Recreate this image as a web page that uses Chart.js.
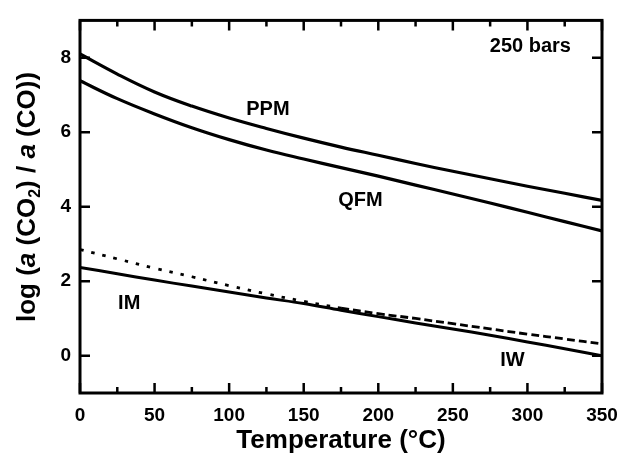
<!DOCTYPE html>
<html>
<head>
<meta charset="utf-8">
<script src="https://cdn.jsdelivr.net/npm/chart.js@4.4.1/dist/chart.umd.min.js"></script>
<style>
  html, body { margin: 0; padding: 0; background: #fff; }
  #wrap { position: relative; width: 617px; height: 459px; }
</style>
</head>
<body>
<div id="wrap"><canvas id="grafik" width="617" height="459"></canvas></div>
<script>
// ── VERI ──
const sicaklik = [0, 25, 50, 75, 100, 125, 150, 175, 200, 225, 250, 275, 300, 325, 350]
const ppm  = [8.10, 7.56, 7.08, 6.70, 6.38, 6.10, 5.84, 5.60, 5.38, 5.16, 4.95, 4.75, 4.55, 4.36, 4.17]
const qfm  = [7.38, 6.90, 6.49, 6.12, 5.80, 5.52, 5.28, 5.05, 4.82, 4.58, 4.34, 4.10, 3.85, 3.60, 3.35]
const imIw = [2.37, 2.20, 2.03, 1.87, 1.71, 1.55, 1.40, 1.22, 1.05, 0.88, 0.72, 0.55, 0.37, 0.19, 0.00]
const kesikli = [2.85, 2.60, 2.35, 2.12, 1.88, 1.66, 1.46, 1.28, 1.13, 1.00, 0.86, 0.72, 0.58, 0.45, 0.32]

const xEtiketler = [0, 50, 100, 150, 200, 250, 300, 350]
const xAraCizgi = [0, 25, 50, 75, 100, 125, 150, 175, 200, 225, 250, 275, 300, 325, 350]
const yEtiketler = [0, 2, 4, 6, 8]

// Egri adlari ve konumlari (veri koordinatinda)
const notlar = [
  { metin: 'PPM', x: 126, y: 6.62 },
  { metin: 'QFM', x: 188, y: 4.18 },
  { metin: 'IM', x: 33, y: 1.40 },
  { metin: 'IW', x: 290, y: -0.12 },
  { metin: '250 bars', x: 302, y: 8.3 }
]

const FONT = "'Liberation Sans', Arial, sans-serif"

// ── CERCEVE + ICE DONUK CENTIKLER ──
const cerceve = {
  id: 'cerceve',
  afterDatasetsDraw(chart) {
    const { ctx, chartArea: a, scales: { x, y } } = chart
    ctx.save()
    ctx.strokeStyle = '#000'
    ctx.lineWidth = 2.5
    ctx.beginPath()
    xAraCizgi.forEach(v => {
      const px = x.getPixelForValue(v)
      const boy = v % 50 === 0 ? 10 : 6
      ctx.moveTo(px, a.bottom); ctx.lineTo(px, a.bottom - boy)
      ctx.moveTo(px, a.top); ctx.lineTo(px, a.top + boy)
    })
    yEtiketler.forEach(v => {
      const py = y.getPixelForValue(v)
      ctx.moveTo(a.left, py); ctx.lineTo(a.left + 10, py)
      ctx.moveTo(a.right, py); ctx.lineTo(a.right - 10, py)
    })
    ctx.stroke()
    ctx.lineWidth = 3
    ctx.strokeRect(a.left, a.top, a.width, a.height)

    // egri etiketleri
    ctx.fillStyle = '#000'
    ctx.font = `bold 20px ${FONT}`
    ctx.textAlign = 'center'
    ctx.textBaseline = 'middle'
    notlar.forEach(n => ctx.fillText(n.metin, x.getPixelForValue(n.x), y.getPixelForValue(n.y)))
    ctx.restore()
  }
}

// ── Y EKSEN BASLIGI (italik a, alt simge 2) ──
const yBaslik = {
  id: 'yBaslik',
  afterDraw(chart) {
    const { ctx } = chart
    const parcalar = [
      { t: 'log (', f: 'bold' },
      { t: 'a', f: 'italic bold' },
      { t: ' (CO', f: 'bold' },
      { t: '2', f: 'bold', alt: true },
      { t: ') / ', f: 'bold' },
      { t: 'a', f: 'italic bold' },
      { t: ' (CO))', f: 'bold' }
    ]
    const boyut = 26
    ctx.save()
    const fontu = p => `${p.f} ${p.alt ? 16 : boyut}px ${FONT}`
    let toplam = 0
    parcalar.forEach(p => { ctx.font = fontu(p); p.w = ctx.measureText(p.t).width; toplam += p.w })
    ctx.translate(28, 197)
    ctx.rotate(-Math.PI / 2)
    ctx.fillStyle = '#000'
    ctx.textBaseline = 'middle'
    ctx.textAlign = 'left'
    let cx = -toplam / 2
    parcalar.forEach(p => {
      ctx.font = fontu(p)
      ctx.fillText(p.t, cx, p.alt ? 8 : 0)
      cx += p.w
    })
    ctx.restore()
  }
}

const cizgi = (veri, kalinlik) => ({
  data: veri,
  borderColor: '#000',
  borderWidth: kalinlik,
  pointRadius: 0,
  tension: 0.4,
  fill: false
})

new Chart(document.getElementById('grafik'), {
  type: 'line',
  data: {
    labels: sicaklik,
    datasets: [
      cizgi(ppm, 3.2),
      cizgi(qfm, 3.2),
      cizgi(imIw, 3),
      {
        ...cizgi(kesikli, 2.8),
        borderCapStyle: 'butt',
        segment: {
          borderDash: c => c.p0.parsed.x < 175 ? [3.5, 8] : [8, 4]
        }
      }
    ]
  },
  plugins: [cerceve, yBaslik],
  options: {
    responsive: false,
    animation: false,
    devicePixelRatio: 1,
    layout: { padding: { top: 13, right: 0, left: 0, bottom: 0 } },
    plugins: { legend: { display: false }, tooltip: { enabled: false } },
    scales: {
      x: {
        type: 'linear',
        min: 0, max: 350,
        afterBuildTicks: s => { s.ticks = xEtiketler.map(v => ({ value: v })) },
        afterFit: s => { s.height = 66; s.paddingRight = 15; s.paddingLeft = 0 },
        grid: { display: false, drawTicks: false },
        border: { display: false },
        ticks: { color: '#000', padding: 11, maxRotation: 0, font: { family: FONT, size: 19, weight: 'bold' } },
        title: {
          display: true,
          text: 'Temperature (°C)',
          color: '#000',
          padding: { top: 0, bottom: 3 },
          font: { family: FONT, size: 26, weight: 'bold' }
        }
      },
      y: {
        min: -1, max: 9,
        afterBuildTicks: s => { s.ticks = yEtiketler.map(v => ({ value: v })) },
        afterFit: s => { s.width = 80 },
        grid: { display: false, drawTicks: false },
        border: { display: false },
        ticks: { color: '#000', padding: 9, font: { family: FONT, size: 19, weight: 'bold' } }
      }
    }
  }
})
</script>
</body>
</html>
